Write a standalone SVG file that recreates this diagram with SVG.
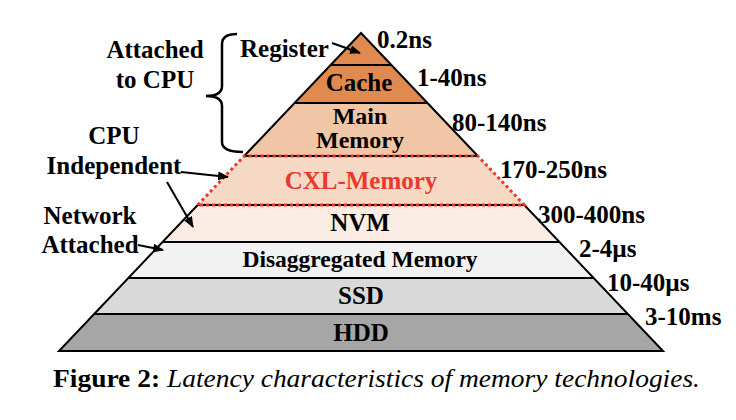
<svg xmlns="http://www.w3.org/2000/svg" width="736" height="420" viewBox="0 0 736 420">
<style>
.t{font-family:"Liberation Serif","Times New Roman",serif;font-weight:bold;font-size:25px;fill:#000}
.c{text-anchor:middle}
.edge{stroke:#000;stroke-width:2;fill:none}
.red{stroke:#E8392E;stroke-width:3;fill:none;stroke-dasharray:3 3}
.arr{stroke:#000;stroke-width:2;fill:none;marker-end:url(#ah)}
</style>
<defs>
<marker id="ah" markerWidth="11" markerHeight="9" refX="10" refY="4.5" orient="auto" markerUnits="userSpaceOnUse">
<path d="M0,0 L11,4.5 L0,9 Z" fill="#000"/>
</marker>
</defs>
<rect width="736" height="420" fill="#fff"/>
<g id="register"><polygon points="361,33 391.4,65 330.6,65" fill="#E08A50"/><text class="t" x="240" y="57">Register</text></g>
<g id="cache"><polygon points="330.6,65 391.4,65 427.5,103 294.5,103" fill="#E08A50"/><text class="t c" x="359" y="91">Cache</text></g>
<g id="main-memory"><polygon points="294.5,103 427.5,103 477.8,156 244.2,156" fill="#F0C6A6"/><text class="t c" x="360" y="124" style="font-size:24px">Main</text><text class="t c" x="360" y="148" style="font-size:24px">Memory</text></g>
<g id="cxl-memory"><polygon points="244.2,156 477.8,156 524.3,205 197.7,205" fill="#F6D9C4"/><text class="t c" x="361" y="189" style="fill:#E8392E">CXL-Memory</text></g>
<g id="nvm"><polygon points="197.7,205 524.3,205 559.5,242 162.5,242" fill="#FBEDE3"/><text class="t c" x="360" y="231">NVM</text></g>
<g id="disaggregated"><polygon points="162.5,242 559.5,242 593.7,278 128.3,278" fill="#F2F2F2"/><text class="t c" x="360" y="267" style="font-size:23.5px">Disaggregated Memory</text></g>
<g id="ssd"><polygon points="128.3,278 593.7,278 627.9,314 94.1,314" fill="#D9D9D9"/><text class="t c" x="361" y="304">SSD</text></g>
<g id="hdd"><polygon points="94.1,314 627.9,314 663,351 59,351" fill="#A6A6A6"/><text class="t c" x="361" y="341">HDD</text></g>

<g id="outline">
<polyline class="edge" points="244.2,156 361,33 477.8,156"/>
<polyline class="edge" points="197.7,205 59,351 663,351 524.3,205"/>
<line class="edge" x1="330.6" y1="65" x2="391.4" y2="65"/>
<line class="edge" x1="294.5" y1="103" x2="427.5" y2="103"/>
<line class="edge" x1="244.2" y1="156" x2="477.8" y2="156"/>
<line class="edge" x1="197.7" y1="205" x2="524.3" y2="205"/>
<line class="edge" x1="162.5" y1="242" x2="559.5" y2="242"/>
<line class="edge" x1="128.3" y1="278" x2="593.7" y2="278"/>
<line class="edge" x1="94.1" y1="314" x2="627.9" y2="314"/>
<polyline class="red" points="197.7,205 244.2,156 477.8,156 524.3,205 197.7,205"/>
</g>

<g id="latencies">
<text class="t" x="377" y="48">0.2ns</text>
<text class="t" x="417" y="86">1-40ns</text>
<text class="t" x="452" y="131">80-140ns</text>
<text class="t" x="500" y="178">170-250ns</text>
<text class="t" x="538" y="223">300-400ns</text>
<text class="t" x="579" y="257">2-4µs</text>
<text class="t" x="607" y="291">10-40µs</text>
<text class="t" x="645" y="325">3-10ms</text>
</g>

<g id="attached-to-cpu">
<text class="t c" x="155" y="58">Attached</text>
<text class="t c" x="155" y="88">to CPU</text>
<path d="M237,34 Q222,34 222,44 L222,86 Q222,96 206,96 Q222,96 222,106 L222,142 Q222,152 243,152" stroke="#000" stroke-width="2.5" fill="none"/>
</g>
<g id="cpu-independent">
<text class="t c" x="114" y="144">CPU</text>
<text class="t c" x="114" y="174">Independent</text>
</g>
<g id="network-attached">
<text class="t c" x="90" y="224">Network</text>
<text class="t c" x="90" y="253">Attached</text>
</g>

<g id="connectors">
<line class="arr" x1="332" y1="43" x2="360" y2="53"/>
<line class="arr" x1="181" y1="172" x2="228" y2="177"/>
<line class="arr" x1="167" y1="182" x2="193" y2="227"/>
<line class="arr" x1="138" y1="245" x2="163" y2="250"/>
</g>

<text x="53" y="387" style="font-family:'Liberation Serif','Times New Roman',serif;font-size:25px" textLength="647" lengthAdjust="spacingAndGlyphs"><tspan font-weight="bold">Figure 2:</tspan><tspan font-style="italic"> Latency characteristics of memory technologies.</tspan></text>
</svg>
